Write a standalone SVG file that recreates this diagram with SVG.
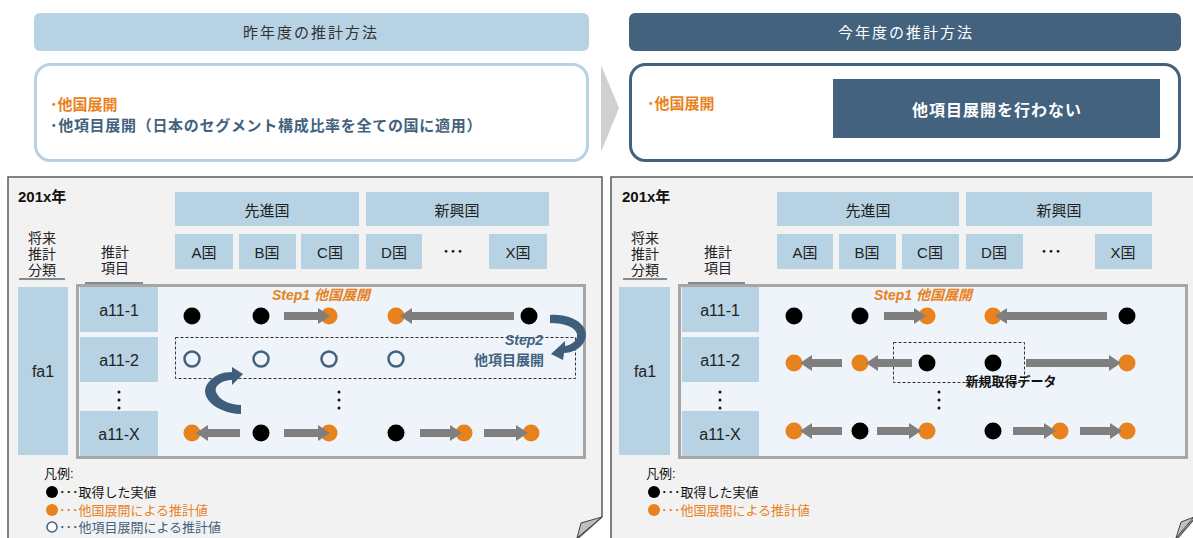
<svg xmlns="http://www.w3.org/2000/svg" width="1193" height="538" viewBox="0 0 1193 538">
<style>
text{font-family:"Liberation Sans","Noto Sans CJK JP",sans-serif;dominant-baseline:central}
.lb{fill:#b7d2e3}
.dk{fill:#42627e}
.blk{fill:#000}
.org{fill:#e8821e}
.hol{fill:#eef4f9;stroke:#42627e;stroke-width:2.5}
.arr{fill:#7f7f7f}
.cur{fill:#3e5e7b}
.c{text-anchor:middle}
.t14{font-size:14px;fill:#222}
.t15{font-size:15px;fill:#222}
.t16{font-size:16px;fill:#222}
.ot{fill:#e8821e;font-weight:bold}
.bt{fill:#42627e;font-weight:bold}
.dash{fill:none;stroke:#333;stroke-width:1;stroke-dasharray:3 2}
.ul{stroke:#222;stroke-width:1.2}
.vd{fill:#111}
</style>

<!-- top headers -->
<g id="hdr-left">
<rect x="34" y="13" width="555" height="38" rx="6" class="lb"/>
<text x="311" y="32" class="c" style="font-size:15px;letter-spacing:2px;fill:#333">昨年度の推計方法</text>
</g>
<g id="hdr-right">
<rect x="629" y="13" width="552" height="38" rx="6" class="dk"/>
<text x="906" y="32" class="c" style="font-size:15px;letter-spacing:2px;fill:#fff">今年度の推計方法</text>
</g>

<g id="box-left">
<rect x="35.5" y="64.5" width="552" height="96" rx="15" fill="#fff" stroke="#b7d2e3" stroke-width="3"/>
<text x="50" y="104" class="ot" style="font-size:15px">･他国展開</text>
<text x="50" y="125" class="bt" style="font-size:15px;letter-spacing:0.7px">･他項目展開（日本のセグメント構成比率を全ての国に適用）</text>
</g>

<g id="chevron">
<polygon points="601,65 619,108 601,152" fill="#d0d0d0"/>
</g>

<g id="box-right">
<rect x="630.5" y="64.5" width="549" height="96" rx="15" fill="#fff" stroke="#42627e" stroke-width="3"/>
<text x="647" y="103" class="ot" style="font-size:15px">･他国展開</text>
<rect x="833" y="79" width="327" height="59" class="dk"/>
<text x="997" y="110" class="c" style="font-size:16px;font-weight:bold;fill:#fff;letter-spacing:1px">他項目展開を行わない</text>
</g>

<!-- LEFT PANEL -->
<g id="panel-left">
<path d="M8,177 H602 V517 L576,540 H8 Z" fill="#f2f2f2" stroke="#595959" stroke-width="1.5"/>
<path d="M581,523 L602,517 L577,538 Z" fill="#bfbfbf" stroke="#404040" stroke-width="1"/>
<text x="18" y="196" style="font-size:15px;font-weight:bold;fill:#111">201x年</text>
</g>
<g id="L-grp1"><rect x="175" y="192" width="184" height="34" class="lb"/><text x="267" y="210" class="c t15">先進国</text></g>
<g id="L-grp2"><rect x="366" y="192" width="183" height="34" class="lb"/><text x="457" y="210" class="c t15">新興国</text></g>
<g id="L-A"><rect x="175" y="234" width="58" height="35" class="lb"/><text x="204" y="252" class="c t15">A国</text></g>
<g id="L-B"><rect x="239" y="234" width="57" height="35" class="lb"/><text x="267" y="252" class="c t15">B国</text></g>
<g id="L-C"><rect x="301" y="234" width="58" height="35" class="lb"/><text x="330" y="252" class="c t15">C国</text></g>
<g id="L-D"><rect x="366" y="234" width="56" height="35" class="lb"/><text x="394" y="252" class="c t15">D国</text></g>
<g id="L-dots"><text x="453" y="251" class="c" style="font-size:14px;font-weight:bold;fill:#111">･･･</text></g>
<g id="L-X"><rect x="489" y="234" width="58" height="35" class="lb"/><text x="518" y="252" class="c t15">X国</text></g>
<g id="L-colhdr1">
<text x="42" y="238" class="c t14">将来</text>
<text x="42" y="254" class="c t14">推計</text>
<text x="42" y="270" class="c t14">分類</text>
<line x1="19" y1="279" x2="65" y2="279" class="ul"/>
</g>
<g id="L-colhdr2">
<text x="115" y="252" class="c t14">推計</text>
<text x="115" y="268" class="c t14">項目</text>
<line x1="85" y1="283" x2="143" y2="283" class="ul"/>
</g>
<g id="L-fa1"><rect x="18" y="287" width="50" height="168" class="lb"/><text x="43" y="371" class="c t16">fa1</text></g>
<g id="L-inner"><rect x="77.5" y="285.5" width="507" height="172" fill="#eef4f9" stroke="#a6a6a6" stroke-width="3"/></g>
<g id="L-r1"><rect x="80" y="287" width="78" height="45" class="lb"/><text x="119" y="310" class="c t16">a11-1</text></g>
<g id="L-r2"><rect x="80" y="337" width="78" height="45" class="lb"/><text x="119" y="360" class="c t16">a11-2</text></g>
<g id="L-rX"><rect x="80" y="411" width="78" height="45" class="lb"/><text x="119" y="434" class="c t16">a11-X</text></g>
<g id="L-vdots">
<circle cx="119" cy="392" r="1.5" class="vd"/><circle cx="119" cy="400" r="1.5" class="vd"/><circle cx="119" cy="408" r="1.5" class="vd"/>
<circle cx="339" cy="392" r="1.5" class="vd"/><circle cx="339" cy="400" r="1.5" class="vd"/><circle cx="339" cy="408" r="1.5" class="vd"/>
</g>
<g id="L-step1"><text x="272" y="295" class="ot" style="font-size:14px;font-style:italic">Step1  他国展開</text></g>
<g id="L-dashed"><rect x="175.5" y="337.5" width="400" height="41" class="dash"/></g>
<g id="L-step2">
<text x="505" y="340" class="bt" style="font-size:14px;font-style:italic">Step2</text>
<text x="474" y="360" class="bt" style="font-size:14px">他項目展開</text>
</g>
<g id="L-points">
<circle cx="192" cy="316" r="8.5" class="blk"/>
<circle cx="261" cy="316" r="8.5" class="blk"/>
<circle cx="329" cy="316" r="8.5" class="org"/>
<circle cx="396" cy="316" r="8.5" class="org"/>
<circle cx="529" cy="316" r="8.5" class="blk"/>
<circle cx="192" cy="359" r="7.5" class="hol"/>
<circle cx="261" cy="359" r="7.5" class="hol"/>
<circle cx="329" cy="359" r="7.5" class="hol"/>
<circle cx="396" cy="359" r="7.5" class="hol"/>
<circle cx="192" cy="433" r="8.5" class="org"/>
<circle cx="261" cy="433" r="8.5" class="blk"/>
<circle cx="329" cy="433" r="8.5" class="org"/>
<circle cx="396" cy="433" r="8.5" class="blk"/>
<circle cx="464" cy="433" r="8.5" class="org"/>
<circle cx="531" cy="433" r="8.5" class="org"/>
</g>
<g id="L-legend">
<text x="44" y="473" style="font-size:13px;fill:#111">凡例:</text>
<circle cx="52" cy="492" r="6" class="blk"/>
<text x="59" y="492" style="font-size:13px;fill:#111">･･･取得した実値</text>
<circle cx="52" cy="510" r="6" class="org"/>
<text x="59" y="510" style="font-size:13px;fill:#e8821e">･･･他国展開による推計値</text>
<circle cx="52" cy="527" r="5" fill="#fff" stroke="#42627e" stroke-width="1.5"/>
<text x="59" y="527" style="font-size:13px;fill:#42627e">･･･他項目展開による推計値</text>
</g>

<!-- RIGHT PANEL -->
<g id="panel-right">
<path d="M611,177 H1196 V517 L1176,540 H611 Z" fill="#f2f2f2" stroke="#595959" stroke-width="1.5"/>
<path d="M1181,522 L1194,517 L1176,538 Z" fill="#bfbfbf" stroke="#404040" stroke-width="1"/>
<text x="622" y="196" style="font-size:15px;font-weight:bold;fill:#111">201x年</text>
</g>
<g id="R-grp1"><rect x="777" y="192" width="182" height="34" class="lb"/><text x="868" y="210" class="c t15">先進国</text></g>
<g id="R-grp2"><rect x="966" y="192" width="186" height="34" class="lb"/><text x="1059" y="210" class="c t15">新興国</text></g>
<g id="R-A"><rect x="777" y="234" width="56" height="35" class="lb"/><text x="805" y="252" class="c t15">A国</text></g>
<g id="R-B"><rect x="839" y="234" width="57" height="35" class="lb"/><text x="867" y="252" class="c t15">B国</text></g>
<g id="R-C"><rect x="902" y="234" width="57" height="35" class="lb"/><text x="930" y="252" class="c t15">C国</text></g>
<g id="R-D"><rect x="966" y="234" width="57" height="35" class="lb"/><text x="994" y="252" class="c t15">D国</text></g>
<g id="R-dots"><text x="1051" y="251" class="c" style="font-size:14px;font-weight:bold;fill:#111">･･･</text></g>
<g id="R-X"><rect x="1095" y="234" width="57" height="35" class="lb"/><text x="1123" y="252" class="c t15">X国</text></g>
<g id="R-colhdr1">
<text x="645" y="238" class="c t14">将来</text>
<text x="645" y="254" class="c t14">推計</text>
<text x="645" y="270" class="c t14">分類</text>
<line x1="623" y1="279" x2="667" y2="279" class="ul"/>
</g>
<g id="R-colhdr2">
<text x="718" y="252" class="c t14">推計</text>
<text x="718" y="268" class="c t14">項目</text>
<line x1="688" y1="283" x2="745" y2="283" class="ul"/>
</g>
<g id="R-fa1"><rect x="619" y="287" width="51" height="168" class="lb"/><text x="645" y="371" class="c t16">fa1</text></g>
<g id="R-inner"><rect x="679.5" y="285.5" width="507" height="172" fill="#eef4f9" stroke="#a6a6a6" stroke-width="3"/></g>
<g id="R-r1"><rect x="682" y="287" width="77" height="45" class="lb"/><text x="720" y="310" class="c t16">a11-1</text></g>
<g id="R-r2"><rect x="682" y="337" width="77" height="45" class="lb"/><text x="720" y="360" class="c t16">a11-2</text></g>
<g id="R-rX"><rect x="682" y="411" width="77" height="45" class="lb"/><text x="720" y="434" class="c t16">a11-X</text></g>
<g id="R-vdots">
<circle cx="720" cy="392" r="1.5" class="vd"/><circle cx="720" cy="400" r="1.5" class="vd"/><circle cx="720" cy="408" r="1.5" class="vd"/>
<circle cx="939" cy="392" r="1.5" class="vd"/><circle cx="939" cy="400" r="1.5" class="vd"/><circle cx="939" cy="408" r="1.5" class="vd"/>
</g>
<g id="R-step1"><text x="874" y="295" class="ot" style="font-size:14px;font-style:italic">Step1  他国展開</text></g>
<g id="R-dashed"><rect x="893.5" y="342.5" width="131" height="40" class="dash"/></g>
<g id="R-newdata"><text x="1011" y="381" class="c" style="font-size:13px;font-weight:bold;fill:#111">新規取得データ</text></g>
<g id="R-points">
<circle cx="794" cy="316" r="8.5" class="blk"/>
<circle cx="860" cy="316" r="8.5" class="blk"/>
<circle cx="927" cy="316" r="8.5" class="org"/>
<circle cx="993" cy="316" r="8.5" class="org"/>
<circle cx="1127" cy="316" r="8.5" class="blk"/>
<circle cx="794" cy="363" r="8.5" class="org"/>
<circle cx="860" cy="363" r="8.5" class="org"/>
<circle cx="927" cy="363" r="8.5" class="blk"/>
<circle cx="993" cy="363" r="8.5" class="blk"/>
<circle cx="1127" cy="363" r="8.5" class="org"/>
<circle cx="794" cy="431" r="8.5" class="org"/>
<circle cx="860" cy="431" r="8.5" class="blk"/>
<circle cx="927" cy="431" r="8.5" class="org"/>
<circle cx="993" cy="431" r="8.5" class="blk"/>
<circle cx="1060" cy="431" r="8.5" class="org"/>
<circle cx="1127" cy="431" r="8.5" class="org"/>
</g>
<g id="R-legend">
<text x="646" y="473" style="font-size:13px;fill:#111">凡例:</text>
<circle cx="654" cy="492" r="6" class="blk"/>
<text x="661" y="492" style="font-size:13px;fill:#111">･･･取得した実値</text>
<circle cx="654" cy="510" r="6" class="org"/>
<text x="661" y="510" style="font-size:13px;fill:#e8821e">･･･他国展開による推計値</text>
</g>

<!-- CONNECTORS -->
<g id="connectors">
<polygon class="arr" points="284,312 318,312 318,308 330,316 318,324 318,320 284,320"/>
<polygon class="arr" points="514,312 412,312 412,308 400,316 412,324 412,320 514,320"/>
<polygon class="arr" points="240,429 208,429 208,425 196,433 208,441 208,437 240,437"/>
<polygon class="arr" points="284,429 318,429 318,425 330,433 318,441 318,437 284,437"/>
<polygon class="arr" points="420,429 450,429 450,425 462,433 450,441 450,437 420,437"/>
<polygon class="arr" points="484,429 516,429 516,425 528,433 516,441 516,437 484,437"/>
<path class="cur" d="M550,315 C575,313 592,328 584,342 C580,349 572,353 564,353 L563,360 L551,354 L565,341 L565,346 C572,345 578,340 577,334 C575,327 565,323 550,323 Z"/>
<path class="cur" d="M241,414 C215,413 198,396 208,383 C214,375 223,372 232,372 L232,367 L243,374 L232,385 L232,380 C223,380 214,385 216,392 C219,400 230,405 241,405 Z"/>

<polygon class="arr" points="884,312 914,312 914,308 926,316 914,324 914,320 884,320"/>
<polygon class="arr" points="1107,312 1007,312 1007,308 995,316 1007,324 1007,320 1107,320"/>
<polygon class="arr" points="842,359 812,359 812,355 800,363 812,371 812,367 842,367"/>
<polygon class="arr" points="912,359 878,359 878,355 866,363 878,371 878,367 912,367"/>
<polygon class="arr" points="1026,359 1109,359 1109,355 1121,363 1109,371 1109,367 1026,367"/>
<polygon class="arr" points="842,427 812,427 812,423 800,431 812,439 812,435 842,435"/>
<polygon class="arr" points="877,427 909,427 909,423 921,431 909,439 909,435 877,435"/>
<polygon class="arr" points="1013,427 1044,427 1044,423 1056,431 1044,439 1044,435 1013,435"/>
<polygon class="arr" points="1080,427 1110,427 1110,423 1122,431 1110,439 1110,435 1080,435"/>
</g>
</svg>
